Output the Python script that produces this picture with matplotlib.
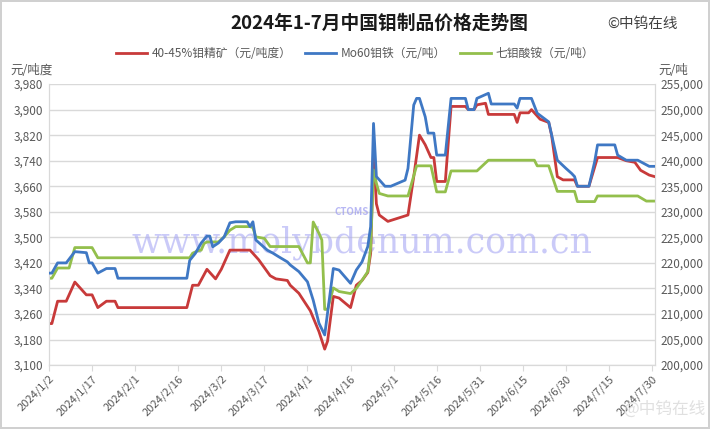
import matplotlib
matplotlib.use('Agg')
import matplotlib.pyplot as plt
import matplotlib.dates as mdates
import pandas as pd
from matplotlib.ticker import FuncFormatter

plt.rcParams['font.family'] = ['Noto Sans CJK SC', 'DejaVu Sans']

# 40-45%钼精矿 (元/吨度) - left axis
red_dates = ['2024-01-02', '2024-01-03', '2024-01-05', '2024-01-08', '2024-01-11', '2024-01-13',
             '2024-01-15', '2024-01-17', '2024-01-19', '2024-01-22', '2024-01-25', '2024-01-26',
             '2024-02-19', '2024-02-21', '2024-02-23', '2024-02-26', '2024-02-29', '2024-03-02',
             '2024-03-05', '2024-03-12', '2024-03-15', '2024-03-19', '2024-03-21', '2024-03-25',
             '2024-03-26', '2024-03-29', '2024-04-02', '2024-04-05', '2024-04-07', '2024-04-08',
             '2024-04-10', '2024-04-12', '2024-04-16', '2024-04-18', '2024-04-20', '2024-04-22',
             '2024-04-23', '2024-04-24', '2024-04-25', '2024-04-26', '2024-04-29', '2024-05-06',
             '2024-05-08', '2024-05-10', '2024-05-12', '2024-05-14', '2024-05-15', '2024-05-16',
             '2024-05-19', '2024-05-21', '2024-05-26', '2024-05-27', '2024-05-29', '2024-05-30',
             '2024-06-02', '2024-06-03', '2024-06-12', '2024-06-13', '2024-06-14', '2024-06-17',
             '2024-06-18', '2024-06-20', '2024-06-21', '2024-06-24', '2024-06-25', '2024-06-27',
             '2024-06-29', '2024-07-03', '2024-07-04', '2024-07-08', '2024-07-10', '2024-07-11',
             '2024-07-18', '2024-07-21', '2024-07-24', '2024-07-26', '2024-07-29', '2024-07-31']
red_vals = [3230, 3230, 3300, 3300, 3360, 3340,
            3320, 3320, 3280, 3300, 3300, 3280,
            3280, 3350, 3350, 3400, 3370, 3400,
            3460, 3460, 3430, 3380, 3370, 3365,
            3350, 3325, 3270, 3205, 3150, 3175,
            3315, 3310, 3280, 3350, 3365, 3390,
            3450, 3770, 3605, 3570, 3550, 3570,
            3690, 3820, 3790, 3750, 3750, 3675,
            3675, 3910, 3910, 3900, 3900, 3915,
            3920, 3885, 3885, 3860, 3890, 3890,
            3900, 3880, 3870, 3860, 3820, 3690,
            3680, 3680, 3660, 3660, 3720, 3750,
            3750, 3740, 3735, 3710, 3695, 3690]

# Mo60钼铁 (元/吨) - right axis
blue_dates = ['2024-01-02', '2024-01-03', '2024-01-05', '2024-01-08', '2024-01-11', '2024-01-15',
              '2024-01-16', '2024-01-17', '2024-01-19', '2024-01-21', '2024-01-22', '2024-01-25',
              '2024-01-26', '2024-02-19', '2024-02-20', '2024-02-22', '2024-02-24', '2024-02-26',
              '2024-02-27', '2024-02-28', '2024-03-01', '2024-03-03', '2024-03-05', '2024-03-07',
              '2024-03-11', '2024-03-12', '2024-03-13', '2024-03-14', '2024-03-16', '2024-03-18',
              '2024-03-20', '2024-03-22', '2024-03-25', '2024-03-26', '2024-03-29', '2024-04-01',
              '2024-04-03', '2024-04-05', '2024-04-07', '2024-04-10', '2024-04-12', '2024-04-16',
              '2024-04-18', '2024-04-20', '2024-04-22', '2024-04-23', '2024-04-24', '2024-04-25',
              '2024-04-28', '2024-04-30', '2024-05-05', '2024-05-06', '2024-05-08', '2024-05-09',
              '2024-05-10', '2024-05-12', '2024-05-13', '2024-05-15', '2024-05-16', '2024-05-19',
              '2024-05-21', '2024-05-26', '2024-05-27', '2024-05-29', '2024-05-30', '2024-06-03',
              '2024-06-04', '2024-06-12', '2024-06-13', '2024-06-14', '2024-06-18', '2024-06-20',
              '2024-06-24', '2024-06-27', '2024-06-30', '2024-07-02', '2024-07-03', '2024-07-04',
              '2024-07-08', '2024-07-10', '2024-07-11', '2024-07-17', '2024-07-18', '2024-07-21',
              '2024-07-25', '2024-07-28', '2024-07-29', '2024-07-31']
blue_vals = [218000, 218000, 220000, 220000, 222200, 222000,
             220000, 220000, 218000, 218600, 218900, 218900,
             217000, 217000, 220500, 221900, 223900, 225250,
             225250, 223150, 223900, 225100, 227850, 228050,
             228050, 227100, 228050, 224500, 223500, 222500,
             221900, 221200, 220200, 219600, 218300, 216300,
             212700, 208200, 205900, 218900, 218600, 216000,
             218600, 220200, 223200, 227100, 247300, 236900,
             235000, 235000, 236200, 238500, 250900, 252200,
             252200, 248600, 245400, 245400, 241100, 241100,
             252200, 252200, 250000, 250000, 252200, 253200,
             251100, 251100, 250300, 252200, 252200, 249300,
             247600, 240100, 238500, 237500, 236900, 235000,
             235000, 239800, 243100, 243100, 241100, 240100,
             240100, 239200, 238900, 238900]

# 七钼酸铵 (元/吨) - right axis
green_dates = ['2024-01-02', '2024-01-03', '2024-01-05', '2024-01-09', '2024-01-11', '2024-01-17',
               '2024-01-19', '2024-02-20', '2024-02-21', '2024-02-23', '2024-02-24', '2024-02-25',
               '2024-02-26', '2024-03-01', '2024-03-03', '2024-03-05', '2024-03-07', '2024-03-12',
               '2024-03-13', '2024-03-14', '2024-03-17', '2024-03-19', '2024-03-29', '2024-04-01',
               '2024-04-02', '2024-04-03', '2024-04-05', '2024-04-06', '2024-04-07', '2024-04-08',
               '2024-04-10', '2024-04-12', '2024-04-16', '2024-04-18', '2024-04-20', '2024-04-22',
               '2024-04-23', '2024-04-24', '2024-04-25', '2024-04-26', '2024-04-29', '2024-05-06',
               '2024-05-09', '2024-05-14', '2024-05-16', '2024-05-19', '2024-05-21', '2024-05-30',
               '2024-06-03', '2024-06-19', '2024-06-20', '2024-06-24', '2024-06-27', '2024-07-03',
               '2024-07-04', '2024-07-10', '2024-07-11', '2024-07-25', '2024-07-28', '2024-07-31']
green_vals = [217000, 217000, 219000, 219000, 223000, 223000,
              221000, 221000, 221900, 222400, 222500, 223800,
              224100, 224100, 225100, 226400, 227100, 227100,
              226900, 225100, 224800, 223200, 223200, 220000,
              220000, 228000, 225800, 224500, 210900, 210900,
              215100, 214400, 214000, 215000, 216600, 218300,
              223000, 238200, 235600, 233600, 233100, 233100,
              239000, 239000, 233900, 233900, 238000, 238000,
              240100, 240100, 239000, 239000, 234000, 234000,
              232000, 232000, 233100, 233100, 232100, 232100]

legend_labels = ['40-45%钼精矿（元/吨度）', 'Mo60钼铁（元/吨）', '七钼酸铵（元/吨）']
start = pd.Timestamp('2024-01-02')
tick_dates = [start + pd.Timedelta(days=15 * i) for i in range(15)]

red_c = '#c83a3a'
blue_c = '#3f78c4'
green_c = '#93bf4c'
grey = '#595959'

fig = plt.figure(figsize=(7.1, 4.29), dpi=100)
fig.patch.set_edgecolor('#d0d0d0')
fig.patch.set_linewidth(1.5)
ax = fig.add_axes([0.069, 0.149, 0.8535, 0.655])
ax2 = ax.twinx()

l1, = ax.plot(pd.to_datetime(red_dates), red_vals, color=red_c, lw=2.0, zorder=3)
l2, = ax2.plot(pd.to_datetime(blue_dates), blue_vals, color=blue_c, lw=2.0, zorder=3)
l3, = ax2.plot(pd.to_datetime(green_dates), green_vals, color=green_c, lw=2.0, zorder=2)

ax.set_ylim(3100, 3980)
ax.set_yticks(range(3100, 3981, 80))
ax2.set_ylim(200000, 255000)
ax2.set_yticks(range(200000, 255001, 5000))
ax.set_xlim(start, pd.Timestamp('2024-07-31'))
ax.set_xticks(tick_dates)
ax.set_xticklabels([f'{d.year}/{d.month}/{d.day}' for d in tick_dates],
                   rotation=45, ha='right', va='top', rotation_mode='anchor')

fmt = FuncFormatter(lambda v, p: f'{int(v):,}')
ax.yaxis.set_major_formatter(fmt)
ax2.yaxis.set_major_formatter(fmt)

ax.grid(axis='y', color='#d9d9d9', lw=1.0)
ax.set_axisbelow(True)
for a in (ax, ax2):
    for s in a.spines.values():
        s.set_color('#d9d9d9')
    a.spines['top'].set_visible(False)
    a.tick_params(axis='y', length=0, labelsize=8.5, labelcolor=grey, pad=4)
ax.tick_params(axis='x', length=4, color='#d9d9d9', labelsize=8, labelcolor=grey, pad=2)

# watermarks
ax.text(0.517, 0.434, 'www.molybdenum.com.cn', transform=ax.transAxes, ha='center', va='center',
        fontsize=25, family='DejaVu Serif', color='#a8a8f4', alpha=0.6, zorder=1)
ax.text(0.5, 0.545, 'CTOMS', transform=ax.transAxes, ha='center', va='center',
        fontsize=7, style='italic', weight='bold', color='#9a9af0', alpha=0.7, zorder=1)
fig.text(0.935, 0.045, '@中钨在线', ha='center', va='center', fontsize=12, color='#e0e0e0', zorder=5)

fig.text(0.534, 0.945, '2024年1-7月中国钼制品价格走势图', ha='center', va='center',
         fontsize=13.5, weight='bold', color='#1a1a1a')
fig.text(0.905, 0.945, '©中钨在线', ha='center', va='center', fontsize=10.5, color='#404040')
fig.text(0.045, 0.835, '元/吨度', ha='center', va='center', fontsize=9, color=grey)
fig.text(0.948, 0.835, '元/吨', ha='center', va='center', fontsize=9, color=grey)

fig.legend([l1, l2, l3], legend_labels, loc='center', bbox_to_anchor=(0.5, 0.876), ncol=3,
           frameon=False, fontsize=8.5, handlelength=2.6, columnspacing=1.2, handletextpad=0.4,
           labelcolor=grey)

plt.savefig('out.png', dpi=100)
